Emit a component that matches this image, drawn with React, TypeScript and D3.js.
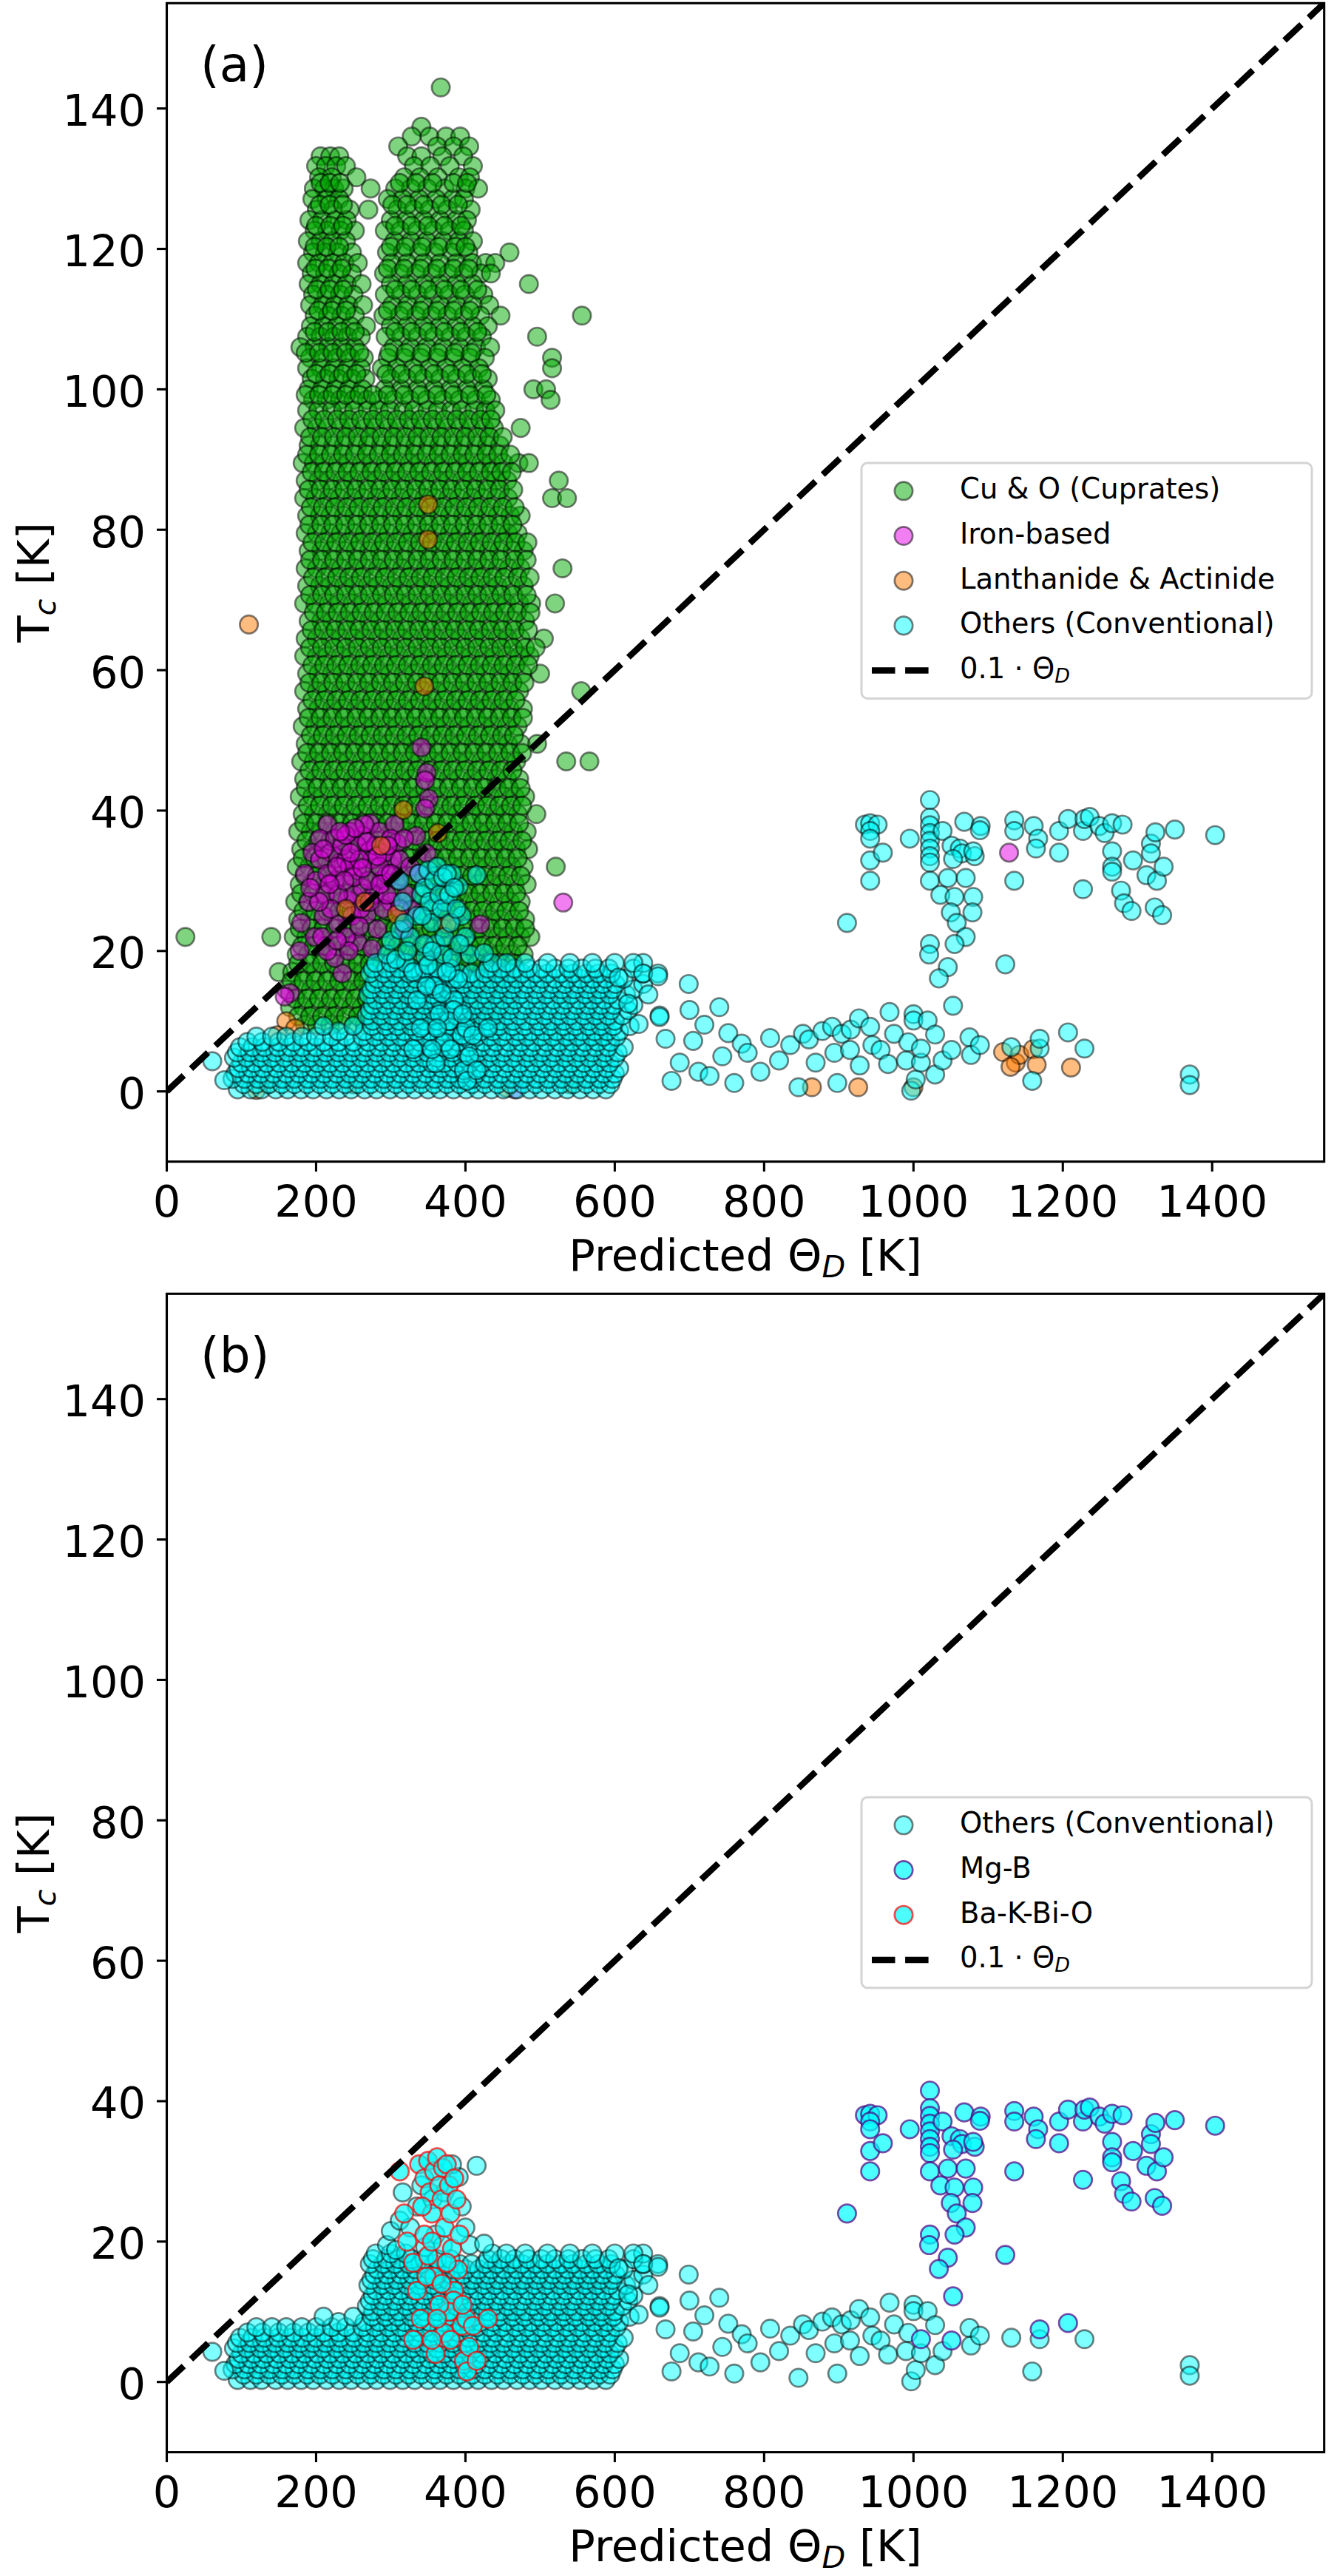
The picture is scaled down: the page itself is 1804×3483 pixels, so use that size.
import React from 'react';
import * as d3 from 'd3';

type Pt = [number, number];
type Row = [number, number[]];

// axis setup (Predicted Theta_D in K on x, Tc in K on y)
const xDomain: [number, number] = [0, 1550];
const yDomain: [number, number] = [-10, 155];
const xTicks = [0, 200, 400, 600, 800, 1000, 1200, 1400];
const yTicks = [0, 20, 40, 60, 80, 100, 120, 140];

// cuprates, read row by row: [Tc, [Theta_D ...]]
const cuprateRows: Row[] = [
  [143, [367]],
  [137.4, [341]],
  [136, [328, 352, 374, 393]],
  [134.6, [310, 362, 384, 405]],
  [133.2, [206, 219, 231, 322, 341, 369, 397]],
  [131.8, [200, 213, 227, 240, 331, 353, 379, 410]],
  [130.2, [204, 221, 254, 318, 339, 363, 391, 406]],
  [128.6, [197, 211, 224, 237, 273, 306, 327, 349, 372, 400, 417]],
  [127.1, [195, 214, 231, 296, 316, 338, 361, 383, 398]],
  [125.6, [201, 223, 245, 270, 309, 331, 352, 376, 407]],
  [124.1, [191, 208, 226, 241, 300, 321, 344, 366, 388, 402]],
  [122.6, [198, 215, 233, 252, 292, 313, 335, 357, 379, 398]],
  [121.1, [189, 206, 222, 240, 305, 327, 348, 370, 391, 410]],
  [119.5, [196, 212, 229, 248, 295, 316, 338, 359, 382, 404, 459]],
  [118, [188, 204, 222, 238, 256, 301, 322, 344, 366, 388, 409, 427, 440]],
  [116.5, [194, 212, 230, 248, 291, 313, 334, 356, 377, 398, 421, 434]],
  [115, [190, 206, 223, 241, 261, 300, 322, 345, 366, 388, 410, 485]],
  [113.5, [196, 214, 232, 250, 292, 314, 336, 357, 378, 399, 424]],
  [112, [192, 209, 225, 243, 263, 302, 323, 344, 366, 388, 410, 432]],
  [110.5, [198, 216, 234, 252, 290, 312, 334, 355, 376, 398, 420, 447, 556]],
  [109, [193, 210, 228, 246, 267, 300, 322, 344, 366, 388, 410, 430]],
  [107.5, [188, 206, 224, 242, 260, 293, 314, 336, 358, 380, 401, 422, 496]],
  [106, [179, 198, 216, 234, 252, 304, 326, 348, 370, 392, 414, 433]],
  [104.5, [192, 210, 228, 246, 264, 296, 318, 340, 362, 384, 406, 426, 516]],
  [103, [188, 206, 224, 242, 260, 288, 308, 330, 352, 374, 396, 418, 516]],
  [101.5, [194, 212, 230, 248, 266, 300, 322, 344, 366, 388, 410, 430]],
  [100, [190, 208, 226, 244, 262, 292, 314, 336, 358, 380, 402, 424, 491, 508]],
  [98.5, [196, 214, 232, 250, 268, 284, 304, 326, 348, 370, 392, 414, 434, 514]],
  [97, [188, 203, 221, 236, 251, 269, 284, 299, 317, 331, 349, 363, 381, 395, 412, 427, 440]],
  [94.5, [184, 201, 215, 233, 247, 265, 279, 297, 311, 329, 343, 361, 375, 393, 407, 425, 438, 474]],
  [92, [190, 205, 223, 237, 255, 269, 287, 301, 319, 333, 351, 365, 383, 397, 415, 429, 446]],
  [89.5, [182, 197, 211, 229, 243, 261, 275, 293, 307, 325, 339, 357, 371, 389, 403, 421, 435, 451, 471, 485]],
  [87, [186, 203, 217, 235, 249, 267, 281, 299, 313, 331, 345, 363, 377, 395, 409, 427, 441, 456, 525]],
  [84.5, [184, 199, 217, 231, 249, 263, 281, 295, 313, 327, 345, 359, 377, 391, 409, 423, 441, 457, 516, 536]],
  [82, [188, 205, 219, 237, 251, 269, 283, 301, 315, 333, 347, 365, 379, 397, 411, 429, 443, 460, 474]],
  [79.5, [186, 201, 219, 233, 251, 265, 283, 297, 315, 329, 347, 361, 379, 393, 411, 425, 443, 457, 470]],
  [77, [190, 207, 221, 239, 253, 271, 285, 303, 317, 335, 349, 367, 381, 399, 413, 431, 445, 463, 478]],
  [74.5, [186, 201, 219, 233, 251, 265, 283, 297, 315, 329, 347, 361, 379, 393, 411, 425, 443, 458, 474, 530]],
  [72, [188, 205, 219, 237, 251, 269, 283, 301, 315, 333, 347, 365, 379, 397, 411, 429, 443, 461, 478]],
  [69.5, [184, 199, 217, 231, 249, 263, 281, 295, 313, 327, 345, 359, 377, 391, 409, 423, 441, 455, 472, 488, 520]],
  [67, [190, 207, 221, 239, 253, 271, 285, 303, 317, 335, 349, 367, 381, 399, 413, 431, 445, 463, 480]],
  [64.5, [186, 201, 219, 233, 251, 265, 283, 297, 315, 329, 347, 361, 379, 393, 411, 425, 443, 457, 474, 505]],
  [62, [184, 201, 215, 233, 247, 265, 279, 297, 311, 329, 343, 361, 375, 393, 407, 425, 439, 456, 472, 486]],
  [59.5, [188, 203, 221, 235, 253, 267, 285, 299, 317, 331, 349, 363, 381, 395, 413, 427, 445, 459, 476, 500]],
  [57, [184, 201, 215, 233, 247, 265, 279, 297, 311, 329, 343, 361, 375, 393, 407, 425, 439, 457, 472, 555]],
  [54.5, [188, 203, 221, 235, 253, 267, 285, 299, 317, 331, 349, 363, 381, 395, 413, 427, 445, 459, 477]],
  [52, [182, 199, 213, 231, 245, 263, 277, 295, 309, 327, 341, 359, 373, 391, 405, 423, 437, 455, 470]],
  [49.5, [186, 201, 219, 233, 251, 265, 283, 297, 315, 329, 347, 361, 379, 393, 411, 425, 443, 457, 474, 496]],
  [47, [180, 197, 211, 229, 243, 261, 275, 293, 307, 325, 339, 357, 371, 389, 403, 421, 435, 453, 468, 535, 566]],
  [44.5, [184, 199, 217, 231, 249, 263, 281, 295, 313, 327, 345, 359, 377, 391, 409, 423, 441, 456, 472]],
  [42, [178, 195, 209, 227, 241, 259, 273, 291, 305, 323, 337, 355, 369, 387, 401, 419, 433, 451, 466, 480]],
  [39.5, [182, 197, 215, 229, 247, 261, 279, 293, 311, 325, 343, 357, 375, 389, 407, 421, 439, 453, 470, 495]],
  [37, [176, 193, 207, 225, 239, 257, 271, 289, 303, 321, 335, 353, 367, 385, 399, 417, 431, 449, 464, 482]],
  [34.5, [180, 195, 213, 227, 245, 259, 277, 291, 309, 323, 341, 355, 373, 387, 405, 419, 437, 451, 468, 484]],
  [32, [174, 191, 205, 223, 237, 255, 269, 287, 301, 319, 333, 351, 365, 383, 397, 415, 429, 447, 462, 478, 521]],
  [29.5, [178, 193, 211, 225, 243, 257, 275, 289, 307, 321, 339, 353, 371, 385, 403, 417, 435, 449, 466, 482]],
  [27, [172, 189, 203, 221, 235, 253, 267, 285, 299, 317, 331, 349, 363, 381, 395, 413, 427, 445, 460, 474]],
  [24.5, [176, 191, 209, 223, 241, 255, 273, 287, 305, 319, 337, 351, 369, 383, 401, 415, 433, 447, 464, 480]],
  [22, [25, 140, 170, 187, 201, 219, 233, 251, 265, 283, 297, 315, 329, 347, 361, 379, 393, 411, 425, 443, 457, 474, 487]],
  [19.5, [174, 189, 207, 221, 239, 253, 271, 285, 303, 317, 335, 349, 367, 381, 399, 413, 431, 445, 462, 478]],
  [17, [150, 168, 185, 199, 217, 231, 249, 263, 281, 295, 313, 327, 345, 359, 377, 391, 409, 423, 441, 456, 470]],
  [14.5, [160, 175, 193, 207, 225, 239, 257, 271, 289, 303, 321, 335, 353, 367, 385, 399, 417, 431, 448, 462]],
  [12, [165, 183, 197, 215, 229, 247, 261, 279, 293, 311, 325, 343, 357, 375, 389, 407, 421, 439, 454]],
  [9.5, [185, 201, 219, 233, 251, 265, 283, 297, 315, 329, 347, 361, 379, 393, 411, 425, 442]],
];

// second pass over the same cuprate block, for the rows in between
const cuprateRowsInner: Row[] = [
  [129.4, [206, 218, 232, 312, 334, 356, 384, 402]],
  [126.3, [205, 218, 236, 302, 322, 344, 368, 390]],
  [123.3, [200, 219, 236, 306, 328, 350, 372, 394]],
  [120.3, [198, 214, 231, 300, 320, 342, 364, 386, 400]],
  [117.2, [199, 216, 234, 296, 318, 340, 362, 384, 404]],
  [114.2, [201, 218, 236, 306, 328, 350, 372, 394, 416]],
  [111.2, [203, 221, 240, 296, 318, 340, 362, 384, 406]],
  [108.2, [198, 216, 234, 252, 306, 328, 350, 372, 394, 416]],
  [105.2, [186, 204, 222, 240, 258, 298, 320, 342, 364, 386, 408]],
  [102.2, [200, 218, 236, 254, 294, 314, 336, 358, 380, 402, 422]],
  [99.2, [186, 204, 222, 240, 258, 276, 296, 318, 340, 362, 384, 406, 428]],
  [95.7, [195, 211, 228, 244, 260, 276, 292, 308, 324, 340, 356, 372, 388, 404, 420, 434]],
  [93.2, [192, 208, 224, 240, 256, 272, 288, 304, 320, 336, 352, 368, 384, 400, 416, 432, 450]],
  [90.7, [188, 204, 220, 236, 252, 268, 284, 300, 316, 332, 348, 364, 380, 396, 412, 428, 444, 460]],
  [88.2, [194, 210, 226, 242, 258, 274, 290, 306, 322, 338, 354, 370, 386, 402, 418, 434, 448, 462]],
  [85.7, [190, 206, 222, 238, 254, 270, 286, 302, 318, 334, 350, 366, 382, 398, 414, 430, 446, 464]],
  [83.2, [193, 209, 225, 241, 257, 273, 289, 305, 321, 337, 353, 369, 385, 401, 417, 433, 450, 466]],
  [80.7, [191, 207, 223, 239, 255, 271, 287, 303, 319, 335, 351, 367, 383, 399, 415, 431, 447, 463]],
  [78.2, [195, 211, 227, 243, 259, 275, 291, 307, 323, 339, 355, 371, 387, 403, 419, 435, 451, 467, 483]],
  [75.7, [192, 208, 224, 240, 256, 272, 288, 304, 320, 336, 352, 368, 384, 400, 416, 432, 448, 466, 482]],
  [73.2, [196, 212, 228, 244, 260, 276, 292, 308, 324, 340, 356, 372, 388, 404, 420, 436, 452, 470, 486]],
  [70.7, [192, 208, 224, 240, 256, 272, 288, 304, 320, 336, 352, 368, 384, 400, 416, 432, 448, 464, 482]],
  [68.2, [197, 213, 229, 245, 261, 277, 293, 309, 325, 341, 357, 373, 389, 405, 421, 437, 453, 469, 487]],
  [65.7, [194, 210, 226, 242, 258, 274, 290, 306, 322, 338, 354, 370, 386, 402, 418, 434, 450, 466, 484]],
  [63.2, [192, 208, 224, 240, 256, 272, 288, 304, 320, 336, 352, 368, 384, 400, 416, 432, 448, 464, 480, 494]],
  [60.7, [195, 211, 227, 243, 259, 275, 291, 307, 323, 339, 355, 371, 387, 403, 419, 435, 451, 467, 484]],
  [58.2, [191, 207, 223, 239, 255, 271, 287, 303, 319, 335, 351, 367, 383, 399, 415, 431, 447, 463, 479]],
  [55.7, [195, 211, 227, 243, 259, 275, 291, 307, 323, 339, 355, 371, 387, 403, 419, 435, 451, 467]],
  [53.2, [190, 206, 222, 238, 254, 270, 286, 302, 318, 334, 350, 366, 382, 398, 414, 430, 446, 462, 477]],
  [50.7, [193, 209, 225, 241, 257, 273, 289, 305, 321, 337, 353, 369, 385, 401, 417, 433, 449, 465]],
  [48.2, [188, 204, 220, 236, 252, 268, 284, 300, 316, 332, 348, 364, 380, 396, 412, 428, 444, 460, 476]],
  [45.7, [191, 207, 223, 239, 255, 271, 287, 303, 319, 335, 351, 367, 383, 399, 415, 431, 447, 463]],
  [43.2, [186, 202, 218, 234, 250, 266, 282, 298, 314, 330, 346, 362, 378, 394, 410, 426, 442, 458, 474]],
  [40.7, [189, 205, 221, 237, 253, 269, 285, 301, 317, 333, 349, 365, 381, 397, 413, 429, 445, 461, 476]],
  [38.2, [184, 200, 216, 232, 248, 264, 280, 296, 312, 328, 344, 360, 376, 392, 408, 424, 440, 456, 472]],
  [35.7, [187, 203, 219, 235, 251, 267, 283, 299, 315, 331, 347, 363, 379, 395, 411, 427, 443, 459, 476]],
  [33.2, [182, 198, 214, 230, 246, 262, 278, 294, 310, 326, 342, 358, 374, 390, 406, 422, 438, 454, 470]],
  [30.7, [185, 201, 217, 233, 249, 265, 281, 297, 313, 329, 345, 361, 377, 393, 409, 425, 441, 457, 474]],
  [28.2, [180, 196, 212, 228, 244, 260, 276, 292, 308, 324, 340, 356, 372, 388, 404, 420, 436, 452, 468]],
  [25.7, [183, 199, 215, 231, 247, 263, 279, 295, 311, 327, 343, 359, 375, 391, 407, 423, 439, 455, 472]],
  [23.2, [178, 194, 210, 226, 242, 258, 274, 290, 306, 322, 338, 354, 370, 386, 402, 418, 434, 450, 466, 480]],
  [20.7, [181, 197, 213, 229, 245, 261, 277, 293, 309, 325, 341, 357, 373, 389, 405, 421, 437, 453, 470]],
  [18.2, [176, 192, 208, 224, 240, 256, 272, 288, 304, 320, 336, 352, 368, 384, 400, 416, 432, 448, 464]],
  [15.7, [167, 183, 199, 215, 231, 247, 263, 279, 295, 311, 327, 343, 359, 375, 391, 407, 423, 439, 455]],
  [13.2, [172, 188, 204, 220, 236, 252, 268, 284, 300, 316, 332, 348, 364, 380, 396, 412, 428, 444]],
  [10.7, [176, 192, 208, 224, 240, 256, 272, 288, 304, 320, 336, 352, 368, 384, 400, 416, 432]],
];

const ironBased: Pt[] = [
  [341, 49], [348, 45.4], [346, 44.3], [351, 41.7], [346, 40.3], [272, 38.2], [262, 36.4], [255, 35],
  [272, 34.3], [308, 35.4], [334, 36.4], [348, 33.9], [232, 32.6], [255, 31.5], [275, 33], [302, 33.2],
  [288, 30.1], [321, 28], [328, 25.9], [318, 23.1], [268, 25.2], [242, 27.3], [229, 23.8], [282, 23.1],
  [255, 21.3], [275, 20.3], [235, 16.8], [215, 38], [205, 36], [195, 34], [185, 31], [200, 30],
  [212, 28], [190, 27], [180, 24], [198, 22], [210, 25], [220, 34], [225, 30], [178, 20],
  [165, 14], [158, 13.5], [245, 37], [240, 33], [250, 28], [262, 29], [285, 37], [295, 31],
  [310, 30], [300, 27], [290, 26], [305, 38], [240, 22], [225, 19], [215, 20], [420, 23.8],
  [531, 26.9], [1128, 34], [466, 0.3], [205, 33], [215, 31], [225, 36], [235, 35], [245, 32],
  [258, 33], [265, 38], [280, 35], [292, 34], [300, 36], [230, 28], [248, 25], [260, 26],
  [278, 28], [295, 28], [312, 33], [220, 26], [208, 22], [250, 30.5], [270, 30], [285, 32],
  [240, 36.5], [318, 36], [326, 32], [338, 31], [210, 34.5], [228, 32], [238, 30], [252, 37.5],
  [268, 35.5], [282, 33.5], [296, 35], [262, 31.8], [246, 34], [232, 37], [218, 29.5], [204, 27],
  [192, 29], [272, 27], [286, 29.5], [300, 31], [258, 23.5], [244, 20], [228, 21.5], [312, 26],
];

const lanthanides: Pt[] = [
  [110, 66.5], [350, 83.6], [350, 78.6], [345, 57.7], [317, 40.1], [363, 36.8], [287, 35], [308, 25.2],
  [438, 17.1], [375, 23.8], [265, 27], [240, 26], [160, 10], [148, 8], [172, 9], [135, 1],
  [120, 0.2], [200, 3], [250, 1], [455, 0.5], [540, 1], [864, 0.6], [926, 0.6], [1000, 0.6],
  [1120, 5.6], [1137, 4.1], [1142, 5.2], [1130, 3.5], [1160, 6], [1165, 3.8], [1211, 3.4],
];

// conventional superconductors, dense block read row by row
const othersRows: Row[] = [
  [0.3, [95, 112, 127, 146, 162, 180, 196, 214, 231, 247, 265, 281, 299, 316, 332, 350, 366, 384, 401, 417, 435, 451, 469, 486, 502, 520, 536, 554, 571, 588]],
  [1.05, [103, 120, 137, 154, 171, 188, 205, 222, 239, 256, 273, 290, 307, 324, 341, 358, 375, 392, 409, 426, 443, 460, 477, 494, 511, 528, 545, 562, 579, 594]],
  [1.8, [88, 104, 122, 138, 155, 171, 189, 206, 222, 240, 256, 274, 291, 307, 325, 341, 359, 376, 392, 410, 426, 444, 461, 477, 495, 511, 529, 546, 562, 580, 597]],
  [2.55, [92, 109, 126, 143, 160, 177, 194, 211, 228, 245, 262, 279, 296, 313, 330, 347, 364, 381, 398, 415, 432, 449, 466, 483, 500, 517, 534, 551, 568, 585, 600]],
  [3.3, [96, 113, 129, 147, 164, 180, 198, 215, 231, 249, 266, 282, 300, 317, 333, 351, 368, 384, 402, 419, 435, 453, 470, 486, 504, 521, 537, 555, 572, 589, 606]],
  [4.05, [100, 117, 134, 151, 168, 185, 202, 219, 236, 253, 270, 287, 304, 321, 338, 355, 372, 389, 406, 423, 440, 457, 474, 491, 508, 525, 542, 559, 576, 593]],
  [4.8, [90, 107, 125, 141, 158, 176, 192, 209, 227, 243, 260, 278, 294, 311, 329, 345, 362, 380, 396, 413, 431, 447, 464, 482, 498, 515, 533, 549, 566, 584, 600]],
  [5.55, [94, 111, 128, 145, 162, 179, 196, 213, 230, 247, 264, 281, 298, 315, 332, 349, 366, 383, 400, 417, 434, 451, 468, 485, 502, 519, 536, 553, 570, 587, 604]],
  [6.3, [98, 115, 131, 149, 166, 182, 200, 217, 233, 251, 268, 284, 302, 319, 335, 353, 370, 386, 404, 421, 437, 455, 472, 488, 506, 523, 539, 557, 574, 591, 612]],
  [7.05, [108, 128, 150, 170, 190, 210, 230, 250, 270, 288, 305, 322, 339, 356, 373, 390, 407, 424, 441, 458, 475, 492, 509, 526, 543, 560, 577, 594]],
  [7.8, [120, 141, 160, 181, 200, 221, 240, 262, 279, 297, 313, 331, 347, 365, 381, 399, 415, 433, 449, 467, 483, 501, 517, 535, 551, 569, 585, 602]],
  [8.55, [230, 265, 284, 301, 318, 335, 352, 369, 386, 403, 420, 437, 454, 471, 488, 505, 522, 539, 556, 573, 590, 606]],
  [9.3, [210, 250, 275, 293, 309, 327, 343, 361, 377, 395, 411, 429, 445, 463, 479, 497, 513, 531, 547, 565, 581, 598, 620]],
  [10.05, [276, 294, 311, 328, 345, 362, 379, 396, 413, 430, 447, 464, 481, 498, 515, 532, 549, 566, 583, 600]],
  [10.8, [268, 286, 302, 320, 336, 354, 370, 388, 404, 422, 438, 456, 472, 490, 506, 524, 540, 558, 574, 591, 610, 660]],
  [11.55, [272, 289, 306, 323, 340, 357, 374, 391, 408, 425, 442, 459, 476, 493, 510, 527, 544, 561, 578, 595, 618]],
  [12.3, [276, 293, 311, 327, 345, 361, 379, 395, 413, 429, 447, 463, 481, 497, 515, 531, 549, 565, 582, 599, 625]],
  [13.05, [280, 297, 314, 331, 348, 365, 382, 399, 416, 433, 450, 467, 484, 501, 518, 535, 552, 569, 586, 604]],
  [13.8, [270, 288, 304, 322, 338, 356, 372, 390, 406, 424, 440, 458, 474, 492, 508, 526, 542, 560, 576, 593, 615]],
  [14.55, [274, 291, 308, 325, 342, 359, 376, 393, 410, 427, 444, 461, 478, 495, 512, 529, 546, 563, 580, 597, 625]],
  [15.3, [278, 295, 313, 329, 347, 363, 381, 397, 415, 431, 449, 465, 483, 499, 517, 533, 551, 567, 584, 601, 638]],
  [16.05, [282, 299, 316, 333, 350, 367, 384, 401, 418, 435, 452, 469, 486, 503, 520, 537, 554, 571, 588, 612]],
  [16.8, [272, 290, 306, 324, 340, 358, 374, 392, 408, 426, 442, 460, 476, 494, 510, 528, 544, 562, 578, 595, 638, 658]],
  [17.5, [276, 294, 311, 328, 345, 362, 380, 430, 448, 466, 484, 502, 520, 538, 556, 574, 592, 625]],
  [18.3, [280, 300, 320, 436, 455, 480, 510, 540, 570, 600, 638]],
];

const othersTower: Pt[] = [
  [295, 19.5], [300, 21.5], [307, 18.8], [312, 23], [316, 27], [326, 22], [335, 25], [341, 28],
  [395, 25], [400, 22], [406, 19.5], [415, 30.8], [425, 19.7], [391, 29.2], [360, 21], [370, 19.5],
  [346, 19.2], [356, 26], [372, 27], [382, 31],
];

const othersScatter: Pt[] = [
  [61, 4.3], [77, 1.6], [605, 16.2], [618, 12.5], [625, 18.3], [638, 16.8], [632, 9.6], [645, 13.8],
  [658, 16.4], [660, 10.6], [668, 7.5], [676, 1.5], [687, 4.1], [699, 15.3], [700, 11.6], [705, 7.2],
  [712, 2.8], [720, 9.5], [727, 2.2], [740, 12], [744, 5], [752, 8.3], [760, 1.2], [770, 6.8],
  [778, 5.5], [795, 2.8], [808, 7.6], [820, 4.4], [835, 6.6], [846, 0.6], [852, 8.2], [860, 7.4],
  [869, 4.1], [878, 8.6], [891, 9.2], [894, 5.5], [898, 1.2], [904, 8.2], [915, 5.9], [916, 8.8],
  [927, 10.4], [928, 3.7], [942, 9.2], [945, 6.6], [956, 5.9], [966, 3.9], [968, 11.3], [974, 8.2],
  [990, 4.4], [993, 7], [997, 0.1], [1000, 11], [1000, 10.1], [1003, 1.7], [1010, 4.1], [1019, 10.1],
  [1029, 8.1], [1029, 2.4], [1039, 4.4], [1075, 7.7], [1077, 5.2], [1089, 6.6], [1131, 6.3], [1159, 1.5],
  [1169, 6.1], [1229, 6.1], [1370, 2.4], [1370, 0.9],
];

const mgB: Pt[] = [
  [935, 38], [942, 38.2], [952, 38], [942, 37.1], [942, 36], [942, 32.9], [942, 30], [959, 34],
  [995, 36], [1022, 41.5], [1022, 39], [1022, 37.9], [1022, 36.8], [1022, 35.7], [1022, 34.6], [1022, 33.5],
  [1022, 32.6], [1022, 30], [1039, 37.1], [1068, 38.4], [1090, 37.8], [1089, 37.2], [1051, 35], [1062, 34.6],
  [1065, 33.9], [1082, 33.5], [1080, 34.2], [1053, 33.1], [1046, 30.4], [1070, 30.4], [1036, 28], [1055, 27.7],
  [1080, 27.7], [1050, 25.5], [1079, 25.5], [1058, 24], [1070, 22], [1055, 21], [1022, 21], [1021, 19.5],
  [1046, 17.7], [1034, 16.1], [1053, 12.2], [911, 24], [1135, 38.6], [1135, 37.1], [1161, 37.8], [1167, 36],
  [1164, 34.6], [1135, 30], [1123, 18.1], [1195, 37.1], [1195, 34], [1207, 38.8], [1227, 37.1], [1229, 38.8],
  [1236, 39.1], [1249, 37.8], [1256, 36.8], [1266, 38.2], [1280, 38], [1266, 34.2], [1266, 32], [1266, 31.3],
  [1294, 32.9], [1318, 35.3], [1318, 33.9], [1324, 36.9], [1312, 30.8], [1326, 30], [1335, 32], [1278, 28.6],
  [1282, 26.8], [1292, 25.7], [1323, 26.2], [1333, 25.1], [1350, 37.3], [1404, 36.5], [1227, 28.8], [1010, 6.1],
  [1051, 5.9], [1169, 7.5], [1207, 8.4],
];

const baKBiO: Pt[] = [
  [312, 30], [318, 24], [322, 20], [330, 17], [335, 13], [338, 31], [345, 29], [350, 31.5],
  [352, 27], [355, 24], [358, 30], [362, 32], [365, 28], [368, 26], [370, 30.5], [372, 22],
  [375, 31], [378, 28], [380, 24], [382, 19], [385, 29], [388, 26], [390, 16], [385, 13],
  [384, 11.6], [378, 10], [372, 7], [365, 11], [358, 15], [350, 18], [345, 21], [340, 9],
  [395, 8], [401, 9], [410, 8], [430, 9], [398, 3], [402, 1.5], [360, 4], [330, 6],
  [342, 25], [348, 15], [355, 20], [362, 9], [368, 14], [375, 17], [392, 21], [396, 11],
  [405, 5], [415, 3], [380, 6], [355, 6],
];

const fromRows = (rows: Row[]): Pt[] => rows.flatMap(([tc, ks]) => ks.map((k) => [k, tc] as Pt));

const cuprates: Pt[] = [...fromRows(cuprateRows), ...fromRows(cuprateRowsInner)];
const othersBase: Pt[] = [...fromRows(othersRows), ...othersTower, ...othersScatter];
const othersAll: Pt[] = [...othersBase, ...mgB, ...baKBiO];

interface Series {
  name: string;
  points: Pt[];
  fill: string;
  fillOpacity: number;
  stroke: string;
  strokeOpacity: number;
}

const FONT = "'DejaVu Sans', sans-serif";
const W = 1804;
const H = 3483;
const AX_LEFT = 225.5;
const AX_RIGHT = 1790.7;
const AX_H = 1566.3;
const R = 12.2;

const panelA: Series[] = [
  { name: 'Cu & O (Cuprates)', points: cuprates, fill: '#00aa00', fillOpacity: 0.5, stroke: '#000', strokeOpacity: 0.5 },
  { name: 'Iron-based', points: ironBased, fill: '#e600e6', fillOpacity: 0.5, stroke: '#000', strokeOpacity: 0.5 },
  { name: 'Lanthanide & Actinide', points: lanthanides, fill: '#ff7a00', fillOpacity: 0.5, stroke: '#000', strokeOpacity: 0.5 },
  { name: 'Others (Conventional)', points: othersAll, fill: '#00ffff', fillOpacity: 0.5, stroke: '#000', strokeOpacity: 0.5 },
];

const panelB: Series[] = [
  { name: 'Others (Conventional)', points: othersBase, fill: '#00ffff', fillOpacity: 0.5, stroke: '#000', strokeOpacity: 0.5 },
  { name: 'Mg-B', points: mgB, fill: '#00ffff', fillOpacity: 0.7, stroke: '#4b0082', strokeOpacity: 0.7 },
  { name: 'Ba-K-Bi-O', points: baKBiO, fill: '#00ffff', fillOpacity: 0.7, stroke: '#ff0000', strokeOpacity: 0.7 },
];

const ThetaD = ({ size }: { size: number }) => (
  <>
    <tspan>Θ</tspan>
    <tspan fontStyle="italic" fontSize={size * 0.7} dy={size * 0.15}>D</tspan>
  </>
);

interface PanelProps {
  top: number;
  label: string;
  series: Series[];
  legendTop: number;
  id: string;
}

const Panel: React.FC<PanelProps> = ({ top, label, series, legendTop, id }) => {
  const x = d3.scaleLinear().domain(xDomain).range([AX_LEFT, AX_RIGHT]);
  const y = d3.scaleLinear().domain(yDomain).range([top + AX_H, top]);
  const bottom = top + AX_H;
  const diag = d3.line<Pt>().x((d) => x(d[0])).y((d) => y(d[1]))([[0, 0], [1550, 155]]) ?? '';

  const rowGap = 60.7;
  const legendRows = series.length + 1;
  const legendH = 37.8 * 2 + rowGap * (legendRows - 1);

  return (
    <g>
      <defs>
        <clipPath id={id}>
          <rect x={AX_LEFT} y={top} width={AX_RIGHT - AX_LEFT} height={AX_H} />
        </clipPath>
      </defs>
      <g clipPath={`url(#${id})`}>
        {series.map((s) => (
          <g key={s.name} fill={s.fill} fillOpacity={s.fillOpacity} stroke={s.stroke} strokeOpacity={s.strokeOpacity} strokeWidth={2.7}>
            {s.points.map((p, i) => (
              <circle key={i} cx={x(p[0])} cy={y(p[1])} r={R} />
            ))}
          </g>
        ))}
        <path d={diag} fill="none" stroke="#000" strokeWidth={8.5} strokeDasharray="31.5 13.6" />
      </g>

      {/* spines */}
      <rect x={AX_LEFT} y={top} width={AX_RIGHT - AX_LEFT} height={AX_H} fill="none" stroke="#000" strokeWidth={3.1} />

      {/* ticks and labels */}
      <g fontFamily={FONT} fontSize={59} fill="#000">
        {yTicks.map((t) => (
          <g key={`y${t}`}>
            <line x1={AX_LEFT - 13.5} x2={AX_LEFT} y1={y(t)} y2={y(t)} stroke="#000" strokeWidth={3.1} />
            <text x={197} y={y(t) + 23.5} textAnchor="end">{t}</text>
          </g>
        ))}
        {xTicks.map((t) => (
          <g key={`x${t}`}>
            <line x1={x(t)} x2={x(t)} y1={bottom} y2={bottom + 13.5} stroke="#000" strokeWidth={3.1} />
            <text x={x(t)} y={bottom + 74.3} textAnchor="middle">{t}</text>
          </g>
        ))}
        <text x={(AX_LEFT + AX_RIGHT) / 2} y={bottom + 147.7} textAnchor="middle">
          <tspan>Predicted </tspan>
          <ThetaD size={59} />
          <tspan dy={-59 * 0.15}> [K]</tspan>
        </text>
        <text transform={`translate(66, ${top + AX_H / 2}) rotate(-90)`} textAnchor="middle">
          <tspan>T</tspan>
          <tspan fontStyle="italic" fontSize={59 * 0.7} dy={59 * 0.15}>c</tspan>
          <tspan dy={-59 * 0.15}> [K]</tspan>
        </text>
        <text x={271} y={top + 105.7} fontSize={66}>{label}</text>
      </g>

      {/* legend */}
      <g fontFamily={FONT} fontSize={38.5}>
        <rect x={1165} y={legendTop} width={609} height={legendH} rx={8} fill="#fff" fillOpacity={0.8} stroke="#d4d4d4" strokeWidth={3} />
        {series.map((s, i) => {
          const cy = legendTop + 37.8 + i * rowGap;
          return (
            <g key={s.name}>
              <circle cx={1222} cy={cy} r={R} fill={s.fill} fillOpacity={s.fillOpacity} stroke={s.stroke} strokeOpacity={s.strokeOpacity} strokeWidth={2.7} />
              <text x={1298} y={cy + 10.5}>{s.name}</text>
            </g>
          );
        })}
        {(() => {
          const cy = legendTop + 37.8 + series.length * rowGap;
          return (
            <g>
              <line x1={1179} x2={1256} y1={cy} y2={cy} stroke="#000" strokeWidth={8.5} strokeDasharray="31.5 13.6" />
              <text x={1298} y={cy + 10.5}>
                <tspan>0.1 · </tspan>
                <ThetaD size={38.5} />
              </text>
            </g>
          );
        })()}
      </g>
    </g>
  );
};

export default function App() {
  return (
    <svg
      width={W}
      height={H}
      viewBox={`0 0 ${W} ${H}`}
      style={{ position: 'absolute', left: 0, top: 0, background: '#fff' }}
    >
      <rect width={W} height={H} fill="#fff" />
      <Panel id="clipA" top={4.3} label="(a)" series={panelA} legendTop={626} />
      <Panel id="clipB" top={1749.3} label="(b)" series={panelB} legendTop={2430} />
    </svg>
  );
}
